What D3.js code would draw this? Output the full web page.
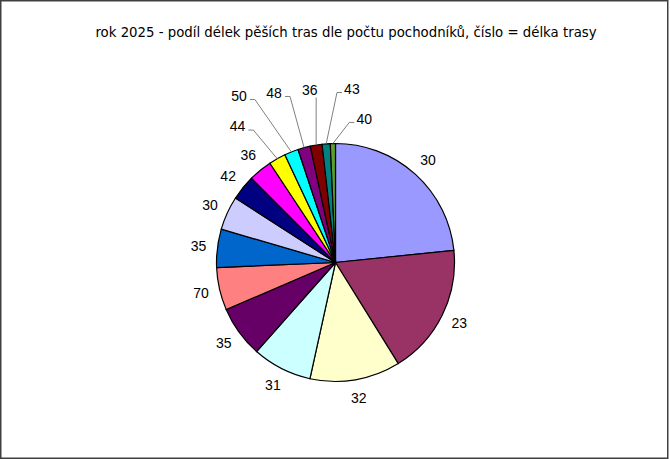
<!DOCTYPE html>
<html>
  <head>
    <meta charset="utf-8">
    <script src="https://d3js.org/d3.v7.min.js"></script>
    <style>
      body {margin: 0; background: #fff;}
      #pie path {stroke: black; stroke-width: 1.2;}
      #labels text {font-family: "Liberation Sans", Arial, sans-serif; font-size: 14px; fill: black;}
      #leaders polyline {fill: none; stroke: #808080; stroke-width: 1;}
    </style>
  </head>
  <body>
    <svg id="chart" width="670" height="459">
      <rect id="frame"/>
      <text id="title"/>
      <g id="pie"/>
      <g id="leaders"/>
      <g id="labels"/>
    </svg>
  </body>
  <script>
      // route lengths shown as slice labels, shares (%)
      let lengths = ["30", "23", "32", "31", "35", "70", "35", "30", "42", "36", "44", "50", "48", "36", "43", "40"];
      let shares = [23.4, 17.8, 12.3, 8.1, 7.0, 5.8, 5.2, 4.6, 3.4, 3.2, 2.3, 1.9, 1.7, 1.6, 1.1, 0.7];
      let colors = ["#9999FF", "#993366", "#FFFFCC", "#CCFFFF", "#660066", "#FF8080", "#0066CC", "#CCCCFF",
                    "#000080", "#FF00FF", "#FFFF00", "#00FFFF", "#800080", "#800000", "#008080", "#55A030"];
      let title = "rok 2025 - podíl délek pěších tras dle počtu pochodníků, číslo = délka trasy";

      let width = 670, height = 459;
      let cx = 335.5, cy = 262.5, radius = 119, labelGap = 19;
      // labels that were dragged away from the slice (index -> [angle deg, distance])
      let movedLabels = {10: [324.2, 167.6], 11: [329.9, 192.4], 12: [340.1, 180.3],
                         13: [351.5, 173.9], 14: [5.4, 174.3], 15: [11.3, 146.4]};

      let svg = d3.select("#chart");
      svg.select("#frame").attr("x", 0.75).attr("y", 0.75).attr("width", width - 3).attr("height", height - 1.5)
          .attr("fill", "white").attr("stroke", "#404040").attr("stroke-width", 1.5);

      svg.select("#title").attr("x", 346).attr("y", 37).attr("text-anchor", "middle")
          .style("font-family", "DejaVu Sans, Verdana, sans-serif").style("font-size", "13.3px")
          .text(title);

      let data = lengths.map((l, i) => ({label: l, value: shares[i], color: colors[i], i: i}));
      let arcs = d3.pie().sort(null).value(d => d.value)(data);
      let arc = d3.arc().innerRadius(0).outerRadius(radius);

      d3.select("#pie").attr("transform", `translate(${cx},${cy})`)
          .selectAll("path").data(arcs).enter().append("path")
          .attr("d", arc).attr("fill", d => d.data.color);

      function polar(angle, r) {
          return [cx + r * Math.sin(angle), cy - r * Math.cos(angle)];
      }

      let labels = d3.select("#labels").selectAll("text").data(arcs).enter().append("text")
          .attr("text-anchor", "middle").attr("dy", "0.35em")
          .each(function(d) {
              let mid = (d.startAngle + d.endAngle) / 2;
              let moved = movedLabels[d.data.i];
              let p = moved ? polar(moved[0] * Math.PI / 180, moved[1]) : polar(mid, radius + labelGap);
              d.lx = p[0]; d.ly = p[1];
              d3.select(this).attr("x", p[0]).attr("y", p[1]);
          })
          .text(d => d.data.label);

      labels.filter(d => movedLabels[d.data.i]).each(function(d) {
          let hw = this.getBBox().width / 2;
          let mid = (d.startAngle + d.endAngle) / 2;
          let e = polar(mid, radius);
          let pts;
          if (e[0] > d.lx - hw && e[0] < d.lx + hw) {
              pts = [[e[0], d.ly + 7], e];
          } else if (d.lx < e[0]) {
              pts = [[d.lx + hw + 3, d.ly + 3.5], [d.lx + hw + 8, d.ly + 3.5], e];
          } else {
              pts = [[d.lx - hw - 2, d.ly + 3.5], [d.lx - hw - 7, d.ly + 3.5], e];
          }
          d3.select("#leaders").append("polyline").attr("points", pts.map(p => p.join(",")).join(" "));
      });
  </script>
</html>
